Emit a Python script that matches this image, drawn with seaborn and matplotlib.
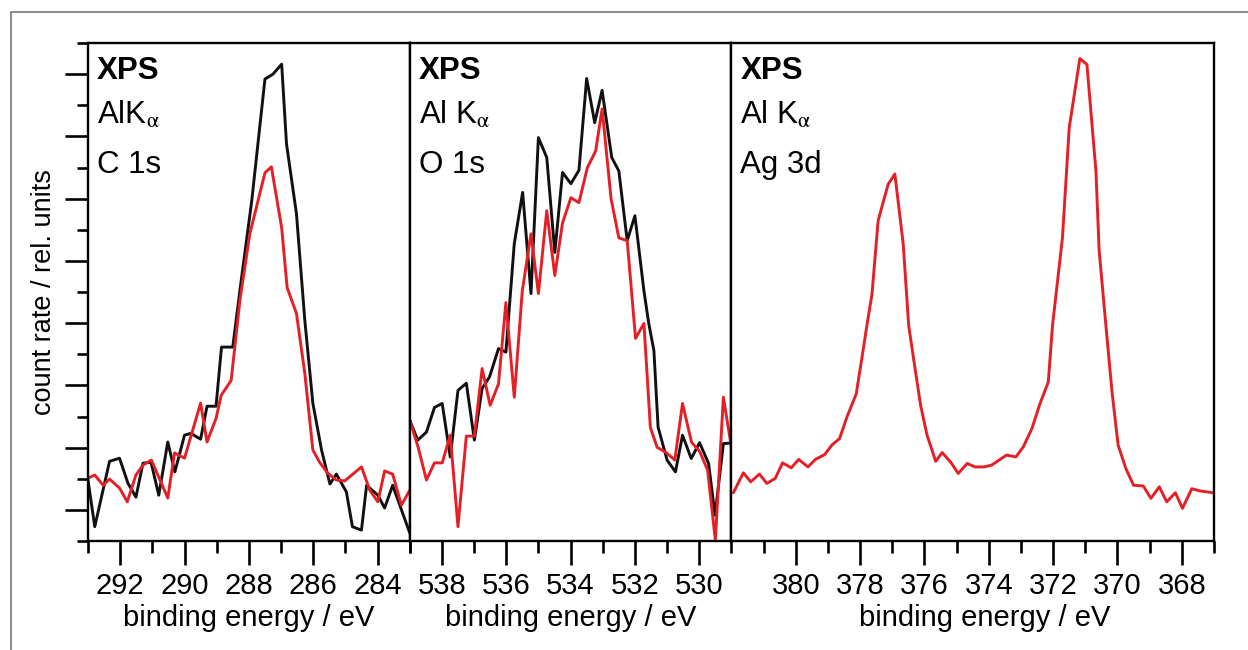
import numpy as np
import pandas as pd
import seaborn as sns
import matplotlib.pyplot as plt
from matplotlib.lines import Line2D

# C 1s region
c1s_black_e = [293.00, 292.79, 292.33, 292.02, 291.76, 291.51, 291.29, 291.04, 290.80, 290.52,
               290.30, 290.00, 289.80, 289.50, 289.30, 289.02, 288.85, 288.50, 288.28, 287.91,
               287.50, 287.25, 286.98, 286.83, 286.52, 286.26, 286.01, 285.74, 285.48, 285.28,
               284.97, 284.78, 284.50, 284.34, 283.99, 283.78, 283.53, 283.00]
c1s_black_i = [1.96, 0.46, 2.56, 2.66, 1.86, 1.41, 2.50, 2.53, 1.47, 3.18,
               2.22, 3.40, 3.46, 3.27, 4.33, 4.33, 6.23, 6.23, 8.04, 10.93,
               14.84, 15.00, 15.32, 12.76, 10.51, 7.08, 4.42, 2.92, 1.83, 2.15,
               1.58, 0.46, 0.35, 1.79, 1.47, 1.06, 1.79, 0.26]
c1s_red_e = [293.00, 292.79, 292.53, 292.33, 292.02, 291.78, 291.51, 291.29, 291.03, 290.52,
             290.31, 290.00, 289.50, 289.30, 289.02, 288.86, 288.55, 288.28, 287.97, 287.50,
             287.30, 286.98, 286.81, 286.52, 286.26, 286.01, 285.80, 285.55, 285.28, 285.02,
             284.50, 284.24, 283.99, 283.78, 283.53, 283.26, 283.00]
c1s_red_i = [2.02, 2.12, 1.79, 1.99, 1.70, 1.26, 2.12, 2.44, 2.60, 1.38,
             2.83, 2.66, 4.43, 3.18, 3.94, 4.68, 5.16, 7.72, 9.87, 11.83,
             12.02, 10.06, 8.14, 7.31, 5.38, 2.92, 2.53, 2.18, 1.96, 1.93,
             2.38, 1.63, 1.26, 2.25, 2.15, 1.15, 1.63]

# O 1s region
o1s_black_e = [539.00, 538.75, 538.48, 538.23, 537.99, 537.74, 537.50, 537.24, 536.99, 536.75,
               536.52, 536.24, 536.01, 535.75, 535.49, 535.23, 535.00, 534.74, 534.49, 534.25,
               533.99, 533.74, 533.50, 533.25, 533.02, 532.72, 532.50, 532.24, 532.00, 531.72,
               531.57, 531.41, 531.28, 531.00, 530.74, 530.52, 530.25, 529.99, 529.71, 529.51,
               529.25, 529.00]
o1s_black_i = [3.88, 3.24, 3.50, 4.29, 4.42, 2.70, 4.84, 5.07, 3.24, 4.90,
               5.27, 6.18, 6.07, 9.55, 11.20, 7.95, 12.96, 12.32, 9.27, 11.84,
               11.48, 11.91, 14.86, 13.44, 14.48, 12.32, 11.89, 9.65, 10.45, 8.04,
               6.99, 6.12, 3.66, 2.60, 2.22, 3.40, 2.65, 3.16, 2.49, 0.83,
               3.13, 3.15]
o1s_red_e = [539.00, 538.74, 538.48, 538.23, 537.99, 537.74, 537.50, 537.24, 536.99, 536.75,
             536.50, 536.24, 536.01, 535.75, 535.50, 535.23, 535.00, 534.74, 534.49, 534.25,
             533.99, 533.74, 533.48, 533.22, 533.02, 532.74, 532.50, 532.24, 531.98, 531.72,
             531.52, 531.31, 531.04, 530.76, 530.52, 530.24, 529.99, 529.74, 529.50, 529.25,
             529.00]
o1s_red_i = [3.88, 3.02, 1.96, 2.51, 2.51, 3.40, 0.46, 3.37, 3.37, 5.54,
             4.36, 5.05, 7.66, 4.62, 8.04, 9.87, 7.95, 10.61, 8.53, 10.22,
             11.03, 10.87, 11.99, 12.53, 13.88, 10.99, 9.74, 9.65, 6.51, 6.99,
             3.65, 3.01, 2.85, 2.60, 4.42, 3.17, 2.88, 2.28, 0.03, 4.62,
             3.01]

# Ag 3d region
ag3d_red_e = [381.94, 381.63, 381.40, 381.13, 380.90, 380.64, 380.41, 380.14, 379.91, 379.62,
              379.39, 379.10, 378.88, 378.64, 378.41, 378.12, 377.94, 377.79, 377.63, 377.44,
              377.13, 376.92, 376.66, 376.49, 376.33, 376.12, 375.92, 375.65, 375.45, 375.19,
              374.95, 374.67, 374.43, 374.15, 373.91, 373.68, 373.45, 373.16, 372.93, 372.66,
              372.41, 372.15, 372.02, 371.71, 371.50, 371.17, 370.95, 370.67, 370.57, 370.36,
              370.17, 369.98, 369.74, 369.50, 369.20, 368.96, 368.70, 368.47, 368.20, 367.98,
              367.69, 367.44, 367.03]
ag3d_red_i = [1.55, 2.19, 1.90, 2.15, 1.85, 2.01, 2.51, 2.35, 2.62, 2.38,
              2.62, 2.78, 3.08, 3.29, 3.98, 4.73, 5.91, 6.92, 7.94, 10.29,
              11.46, 11.79, 9.54, 6.92, 5.80, 4.36, 3.40, 2.56, 2.84, 2.54,
              2.17, 2.49, 2.38, 2.38, 2.44, 2.60, 2.76, 2.70, 3.02, 3.61,
              4.41, 5.11, 6.92, 9.75, 13.28, 15.50, 15.31, 11.89, 9.33, 6.92,
              4.79, 3.08, 2.33, 1.79, 1.77, 1.37, 1.74, 1.26, 1.55, 1.05,
              1.68, 1.61, 1.55]

panel_labels = [["XPS", "AlK$_\\mathrm{\\alpha}$", "C 1s"],
                ["XPS", "Al K$_\\mathrm{\\alpha}$", "O 1s"],
                ["XPS", "Al K$_\\mathrm{\\alpha}$", "Ag 3d"]]
x_limits = [(293, 283), (539, 529), (382, 367)]
major_ticks = [[292, 290, 288, 286, 284], [538, 536, 534, 532, 530],
               [380, 378, 376, 374, 372, 370, 368]]

sns.set_theme(style="ticks")
plt.rcParams['font.family'] = ['Liberation Sans', 'DejaVu Sans']
plt.rcParams['mathtext.fontset'] = 'stix'

RED = "#e41f26"
BLACK = "#111111"

fig = plt.figure(figsize=(12.48, 6.5), dpi=100)
gs = fig.add_gridspec(1, 3, width_ratios=[10, 10, 15], wspace=0,
                      left=88/1248, right=1214/1248, bottom=1-541/650, top=1-43/650)
axes = [fig.add_subplot(gs[0, i]) for i in range(3)]

series = [
    [(c1s_black_e, c1s_black_i, BLACK), (c1s_red_e, c1s_red_i, RED)],
    [(o1s_black_e, o1s_black_i, BLACK), (o1s_red_e, o1s_red_i, RED)],
    [(ag3d_red_e, ag3d_red_i, RED)],
]

for i, ax in enumerate(axes):
    for e, inten, col in series[i]:
        df = pd.DataFrame({"E": e, "I": inten})
        sns.lineplot(data=df, x="E", y="I", ax=ax, color=col, lw=2.1,
                     sort=False, estimator=None)
    ax.set_xlim(*x_limits[i])
    ax.set_ylim(0, 16)
    ax.set_xticks(major_ticks[i])
    lo, hi = min(x_limits[i]), max(x_limits[i])
    ax.set_xticks(np.arange(lo + 1 if lo % 2 == 0 else lo, hi + 1, 2), minor=True)
    ax.tick_params(axis="x", which="major", direction="out", length=17, width=1.9,
                   labelsize=21, pad=5, color="black", labelcolor="black")
    ax.tick_params(axis="x", which="minor", direction="out", length=8.5, width=1.9,
                   color="black")
    for sp in ax.spines.values():
        sp.set_visible(True)
        sp.set_linewidth(1.7)
        sp.set_color("black")
    ax.set_xlabel("binding energy / eV", fontsize=21, labelpad=3, color="black")
    if i == 0:
        ax.set_yticks(np.arange(1, 16, 2))
        ax.set_yticks(np.arange(0, 17, 2), minor=True)
        ax.tick_params(axis="y", which="major", direction="out", length=16.5, width=1.9,
                       labelleft=False, color="black")
        ax.tick_params(axis="y", which="minor", direction="out", length=8, width=1.9,
                       color="black")
        ax.set_ylabel("count rate / rel. units", fontsize=19.5, labelpad=6, color="black")
    else:
        ax.set_yticks([])
        ax.set_ylabel("")
    # panel annotations
    offs = [36, 81, 130]
    for k, txt in enumerate(panel_labels[i]):
        ax.annotate(txt, xy=(0, 1), xycoords="axes fraction",
                    xytext=(9, -offs[k]), textcoords="offset pixels",
                    ha="left", va="baseline", fontsize=22.5,
                    fontweight="bold" if k == 0 else "normal", color="black")

axes[2].xaxis.label.set_x(0.524)

# grey outer frame
fig.add_artist(Line2D([11/1248, 11/1248], [0, 1-12/650], color="#8e8e8e", lw=1.5))
fig.add_artist(Line2D([11/1248, 1], [1-12/650, 1-12/650], color="#8e8e8e", lw=1.5))

fig.savefig("out.png", dpi=100)
